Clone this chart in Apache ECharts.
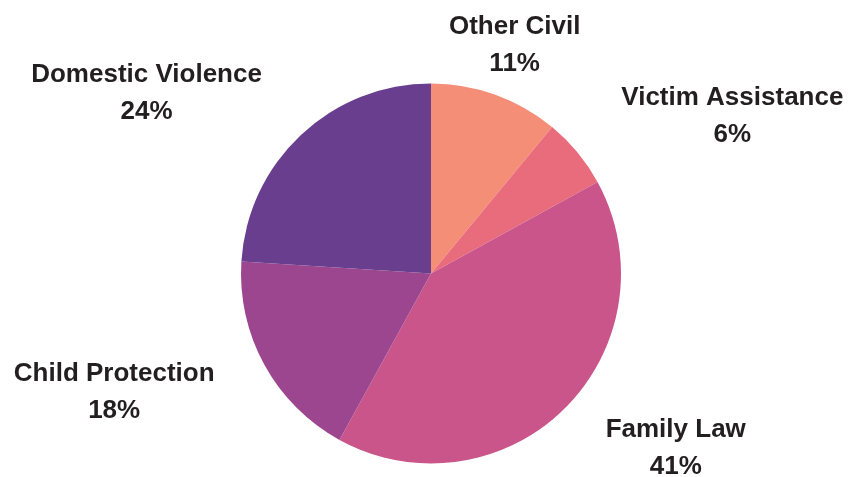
<!DOCTYPE html>
<html>
<head>
<meta charset="utf-8">
<style>
  html, body { margin: 0; padding: 0; background: #ffffff; }
  #chart { width: 851px; height: 477px; }
</style>
<script src="https://cdn.jsdelivr.net/npm/echarts@6/dist/echarts.min.js"></script>
</head>
<body>
<div id="chart"></div>
<script>
// Share of cases by category (percent), clockwise from 12 o'clock
const categories = ['Other Civil', 'Victim Assistance', 'Family Law', 'Child Protection', 'Domestic Violence'];
const shares = [11, 6, 41, 18, 24];
const sliceColors = ['#F58E77', '#E96C7D', '#C9558A', '#9C468F', '#6A3E8E'];

const chart = echarts.init(document.getElementById('chart'), null, { renderer: 'canvas' });

const labelText = {
  fontFamily: '"Liberation Sans", Arial, sans-serif',
  fontWeight: 'bold',
  fontSize: 26,
  lineHeight: 37,
  color: '#231F20',
  align: 'center'
};

chart.setOption({
  animation: false,
  series: [{
    type: 'pie',
    center: [431, 273.5],
    radius: 190,
    startAngle: 90,
    clockwise: true,
    avoidLabelOverlap: false,
    itemStyle: { borderWidth: 0 },
    label: {
      show: true,
      position: 'outside',
      distanceToLabelLine: 0,
      formatter: p => '{t|' + p.name + '}\n{t|' + p.value + '%}',
      rich: { t: labelText }
    },
    labelLine: { show: false, length: 57, length2: 0 },
    // the slice nearest the top gets its label centred over the anchor
    labelLayout: p => (p.dataIndex === 0 ? { align: 'center', dy: 4 } : {}),
    emphasis: { disabled: true },
    data: categories.map((name, i) => ({
      name: name,
      value: shares[i],
      itemStyle: { color: sliceColors[i] }
    }))
  }]
});
</script>
</body>
</html>
